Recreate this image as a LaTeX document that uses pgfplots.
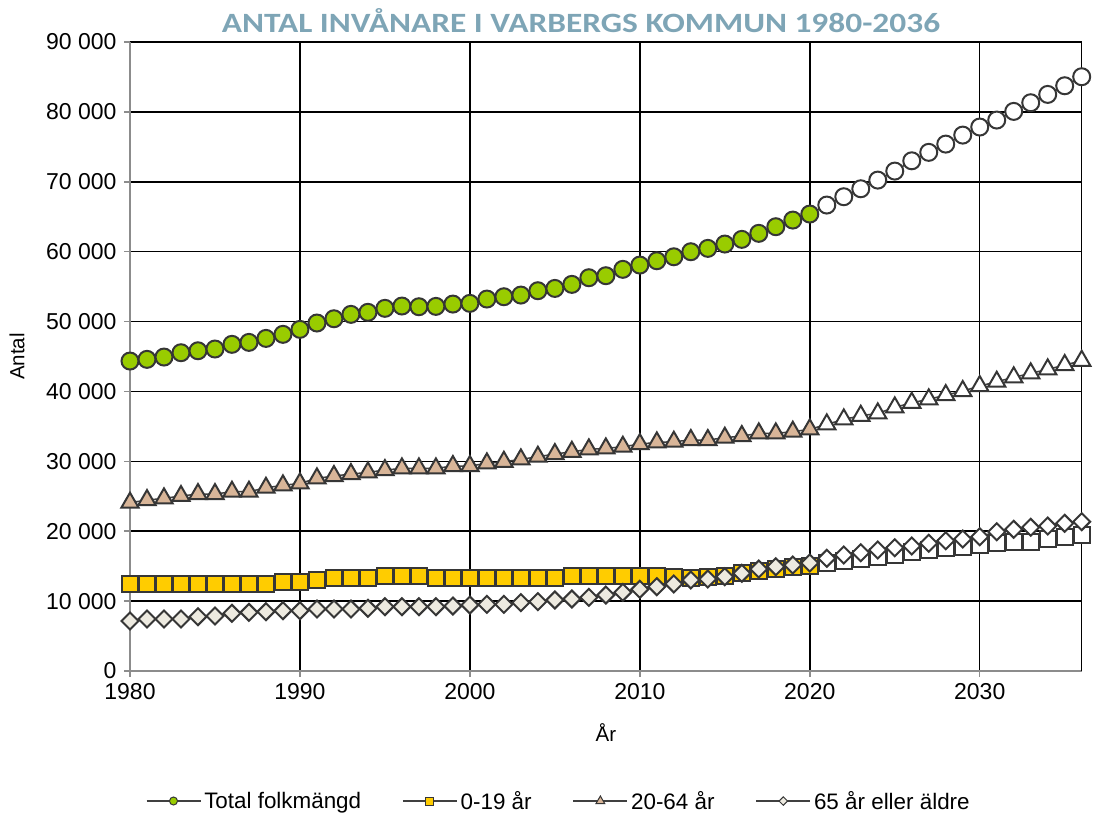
\documentclass[border=0pt]{standalone}
\usepackage{fontspec}
\setmainfont{Liberation Sans}
\newfontfamily\titlefont{Carlito}
\usepackage{pgfplots}
\usepackage{pgfplotstable}
\pgfplotsset{compat=1.18}

\definecolor{titleblue}{HTML}{7EA5B6}
\definecolor{axisgray}{HTML}{8C8C8C}
\definecolor{edge}{HTML}{363636}
\definecolor{linegray}{HTML}{404040}
\definecolor{cgreen}{HTML}{99CC00}
\definecolor{cyellow}{HTML}{FFCC00}
\definecolor{ctan}{HTML}{D8B598}
\definecolor{ccream}{HTML}{EDEAE0}

\newcommand\tks{\fontsize{23}{23}\selectfont}
\newcommand\lbs{\fontsize{20.5}{20.5}\selectfont}
\newcommand\lgs{\fontsize{22.4}{22.4}\selectfont}

% year, total, 0-19, 20-64, 65+
\pgfplotstableread{
year total a b c
1980 44350 12450 24080 7150
1981 44590 12450 24460 7440
1982 44920 12450 24700 7440
1983 45540 12450 25040 7440
1984 45820 12450 25320 7770
1985 46070 12450 25320 7870
1986 46740 12450 25650 8250
1987 47020 12450 25650 8390
1988 47590 12450 26220 8490
1989 48170 12690 26560 8630
1990 48880 12690 26850 8630
1991 49790 13020 27560 8870
1992 50400 13350 27900 8870
1993 51030 13350 28180 8870
1994 51320 13350 28420 8970
1995 51890 13640 28750 9200
1996 52220 13640 28990 9200
1997 52120 13640 28990 9200
1998 52170 13350 28990 9200
1999 52500 13350 29330 9300
2000 52600 13350 29330 9440
2001 53220 13350 29710 9540
2002 53550 13350 29940 9540
2003 53790 13350 30280 9780
2004 54410 13350 30660 9920
2005 54740 13350 31040 10160
2006 55320 13640 31370 10300
2007 56270 13640 31710 10540
2008 56560 13640 31850 10870
2009 57470 13640 32090 11260
2010 58080 13640 32470 11690
2011 58700 13640 32710 12060
2012 59270 13400 32810 12450
2013 59990 13350 33050 13020
2014 60470 13400 33050 13160
2015 61090 13590 33380 13490
2016 61760 14060 33620 13980
2017 62620 14350 34000 14590
2018 63570 14640 34000 14920
2019 64520 14830 34240 15160
2020 65380 15000 34580 15450
2021 66670 15400 35290 16120
2022 67860 15740 36000 16600
2023 69000 15980 36520 16920
2024 70240 16360 36860 17310
2025 71530 16600 37720 17640
2026 73000 17070 38380 17880
2027 74210 17310 38870 18270
2028 75390 17550 39480 18640
2029 76680 17790 40060 18880
2030 77830 18030 40770 19210
2031 78830 18360 41390 19930
2032 80070 18500 42020 20270
2033 81310 18500 42590 20560
2034 82500 18840 43160 20740
2035 83740 19130 43780 21130
2036 85030 19460 44390 21360
}\data

\begin{document}
\begin{tikzpicture}
\useasboundingbox (0,0) rectangle (1095pt,816pt);
\node[anchor=base, text=titleblue, inner sep=0pt] at (581pt,783pt)
  {\resizebox{718pt}{24pt}{\titlefont\bfseries ANTAL INVÅNARE I VARBERGS KOMMUN 1980-2036}};
\begin{axis}[
  scale only axis, width=951.7pt, height=629pt,
  at={(130pt,145pt)}, anchor=south west,
  xmin=1980, xmax=2036, ymin=0, ymax=90000,
  scaled y ticks=false,
  axis x line*=bottom, axis y line*=left,
  axis line style={-, draw=axisgray, line width=2pt},
  xtick={1980,1990,...,2030},
  xticklabels={{\tks 1980},{\tks 1990},{\tks 2000},{\tks 2010},{\tks 2020},{\tks 2030}},
  ytick={0,10000,...,90000},
  yticklabels={{\tks 0},{\tks 10 000},{\tks 20 000},{\tks 30 000},{\tks 40 000},
    {\tks 50 000},{\tks 60 000},{\tks 70 000},{\tks 80 000},{\tks 90 000}},
  xticklabel style={font=\tks, yshift=-3pt},
  yticklabel style={font=\tks, xshift=-4pt},
  extra x ticks={2036}, extra x tick labels={},
  extra x tick style={grid=major, major tick length=0pt},
  grid=major, major grid style={black, line width=1.5pt},
  tick align=outside, major tick length=6pt,
  tick style={axisgray, line width=1.5pt},
  xlabel={\lbs År}, ylabel={\lbs Antal},
  xlabel style={at={(axis description cs:0.5,-0.0986)}, anchor=center},
  ylabel style={at={(axis description cs:-0.1187,0.5)}, anchor=center},
  clip=false,
  legend columns=4,
  legend style={at={(axis description cs:0.451,-0.2067)}, anchor=center,
    draw=none, font=\lgs,
    /tikz/every even column/.append style={column sep=38pt},
    nodes={inner sep=3pt}},
  legend image code/.code={
    \draw[mark repeat=2,mark phase=2] plot coordinates {(0pt,0pt)(27pt,0pt)(54pt,0pt)};},
  hist/.style={only marks, forget plot, restrict x to domain=1980:2020},
  prog/.style={only marks, forget plot, restrict x to domain=2021:2036},
  ser/.style={linegray, line width=1.5pt, no marks, forget plot},
]
% Total folkmängd
\addplot[ser] table[x=year,y=total] {\data};
\addplot[hist, mark=*, mark size=8.5pt, mark options={fill=cgreen, draw=edge, line width=2pt}] table[x=year,y=total] {\data};
\addplot[prog, mark=*, mark size=8.5pt, mark options={fill=white, draw=edge, line width=2pt}] table[x=year,y=total] {\data};
% 0-19 år
\addplot[ser] table[x=year,y=a] {\data};
\addplot[hist, mark=square*, mark size=8pt, mark options={fill=cyellow, draw=edge, line width=2pt}] table[x=year,y=a] {\data};
\addplot[prog, mark=square*, mark size=8pt, mark options={fill=white, draw=edge, line width=2pt}] table[x=year,y=a] {\data};
% 20-64 år
\addplot[ser] table[x=year,y=b] {\data};
\addplot[hist, mark=triangle*, mark size=10pt, mark options={fill=ctan, draw=edge, line width=2pt}] table[x=year,y=b] {\data};
\addplot[prog, mark=triangle*, mark size=10pt, mark options={fill=white, draw=edge, line width=2pt}] table[x=year,y=b] {\data};
% 65 år eller äldre
\addplot[ser] table[x=year,y=c] {\data};
\addplot[hist, mark=square*, mark size=6pt, mark options={rotate=45, fill=ccream, draw=edge, line width=2pt}] table[x=year,y=c] {\data};
\addplot[prog, mark=square*, mark size=6pt, mark options={rotate=45, fill=white, draw=edge, line width=2pt}] table[x=year,y=c] {\data};
% legend
\addlegendimage{linegray, line width=1.5pt, mark=*, mark size=4pt, mark options={fill=cgreen, draw=edge, line width=1pt}}
\addlegendentry{\lgs Total folkmängd}
\addlegendimage{linegray, line width=1.5pt, mark=square*, mark size=4pt, mark options={fill=cyellow, draw=edge, line width=1pt}}
\addlegendentry{\lgs 0-19 år}
\addlegendimage{linegray, line width=1.5pt, mark=triangle*, mark size=5pt, mark options={fill=ctan, draw=edge, line width=1pt}}
\addlegendentry{\lgs 20-64 år}
\addlegendimage{linegray, line width=1.5pt, mark=square*, mark size=3pt, mark options={rotate=45, fill=ccream, draw=edge, line width=1pt}}
\addlegendentry{\lgs 65 år eller äldre}
\end{axis}
\end{tikzpicture}
\end{document}
